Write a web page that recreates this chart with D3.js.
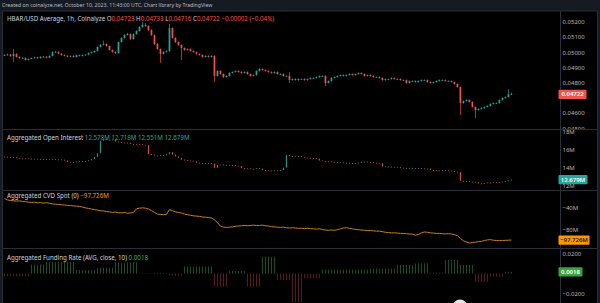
<!DOCTYPE html>
<html>
<head>
<meta charset="utf-8">
<script src="https://cdn.jsdelivr.net/npm/d3@7"></script>
<style>
  html, body { margin: 0; padding: 0; background: #161a22; }
  svg { display: block; font-family: "Noto Sans", sans-serif; }
</style>
</head>
<body>
<svg id="chart" width="600" height="303"></svg>
<script>
// HBAR/USD 1h candles, prices in 1e-5 units (4722 = 0.04722)
var openE5 = [4978,4981,4984,4974,4988,4968,4961,4962,4948,4955,
  4961,4966,4960,4968,4970,4963,4975,5000,5002,4990,
  4981,4976,4970,4975,4968,4980,4975,4981,4983,4994,
  5000,5007,5034,5047,5053,5040,5014,5001,4994,5066,
  5093,5112,5119,5086,5119,5139,5165,5178,5172,5145,
  5112,5053,5020,4988,5001,5007,5158,5093,5066,5047,
  5027,5014,5020,5007,5000,4988,4981,4968,4975,4968,
  4975,4843,4876,4856,4836,4843,4863,4869,4876,4869,
  4863,4869,4856,4843,4849,4876,4889,4882,4876,4869,
  4863,4869,4856,4856,4843,4843,4816,4823,4816,4823,
  4823,4816,4823,4830,4830,4836,4843,4843,4797,4810,
  4830,4836,4843,4849,4843,4849,4856,4849,4856,4863,
  4856,4843,4849,4843,4836,4836,4830,4816,4823,4823,
  4830,4823,4823,4816,4816,4797,4810,4810,4803,4810,
  4816,4816,4803,4797,4803,4810,4816,4816,4810,4810,
  4803,4790,4770,4665,4678,4685,4672,4639,4619,4626,
  4632,4639,4646,4659,4665,4665,4685,4698,4705,4723];
var highE5 = [4986,4990,4987,5020,4991,4972,4966,4965,4958,4964,
  4970,4969,4972,4975,4973,4979,5004,5008,5005,4993,
  4985,4979,4978,4978,4983,4984,4984,4987,4998,5004,
  5011,5038,5052,5075,5057,5043,5018,5005,5070,5098,
  5117,5126,5123,5123,5144,5170,5200,5190,5176,5150,
  5116,5058,5024,5005,5012,5185,5162,5098,5070,5051,
  5031,5024,5024,5011,5004,4992,4985,4979,4979,4979,
  4979,4882,4880,4860,4848,4867,4873,4880,4880,4873,
  4873,4873,4860,4853,4880,4895,4893,4886,4880,4873,
  4873,4873,4860,4860,4847,4869,4827,4827,4827,4827,
  4827,4827,4834,4834,4840,4847,4847,4847,4814,4834,
  4840,4847,4853,4853,4853,4860,4860,4860,4867,4867,
  4860,4853,4853,4847,4840,4840,4834,4827,4827,4834,
  4834,4827,4827,4820,4820,4814,4814,4814,4814,4820,
  4820,4820,4807,4807,4814,4820,4820,4820,4814,4814,
  4807,4794,4774,4682,4690,4690,4676,4643,4630,4636,
  4643,4650,4663,4669,4669,4689,4702,4709,4755,4733];
var lowE5 = [4974,4978,4970,4935,4964,4957,4958,4944,4945,4952,
  4957,4956,4957,4964,4959,4960,4972,4996,4986,4977,
  4972,4966,4967,4964,4965,4971,4972,4978,4980,4990,
  4996,5004,5030,5043,5036,5010,4997,4988,4990,5062,
  5089,5108,5080,5082,5115,5135,5160,5166,5140,5106,
  5048,5014,4928,4984,4997,5003,5088,5060,5042,4948,
  5010,5010,5003,4996,4984,4977,4964,4964,4964,4964,
  4803,4838,4851,4830,4832,4839,4859,4865,4865,4858,
  4859,4852,4838,4839,4845,4872,4878,4872,4865,4858,
  4859,4852,4852,4839,4839,4797,4812,4812,4812,4819,
  4812,4812,4819,4826,4826,4832,4839,4777,4793,4806,
  4826,4832,4839,4839,4839,4845,4845,4845,4852,4852,
  4839,4839,4839,4832,4832,4826,4812,4812,4819,4819,
  4819,4819,4812,4812,4793,4793,4806,4799,4799,4806,
  4812,4799,4793,4793,4799,4806,4812,4806,4806,4799,
  4786,4766,4586,4660,4674,4668,4635,4566,4615,4622,
  4628,4635,4642,4655,4661,4661,4681,4694,4701,4716];
var closeE5 = [4981,4984,4974,4988,4968,4961,4962,4948,4955,4961,
  4966,4960,4968,4970,4963,4975,5000,5002,4990,4981,
  4976,4970,4975,4968,4980,4975,4981,4983,4994,5000,
  5007,5034,5047,5053,5040,5014,5001,4994,5066,5093,
  5112,5119,5086,5119,5139,5165,5178,5172,5145,5112,
  5053,5020,4988,5001,5007,5158,5093,5066,5047,5027,
  5014,5020,5007,5000,4988,4981,4968,4975,4968,4975,
  4843,4876,4856,4836,4843,4863,4869,4876,4869,4863,
  4869,4856,4843,4849,4876,4889,4882,4876,4869,4863,
  4869,4856,4856,4843,4843,4816,4823,4816,4823,4823,
  4816,4823,4830,4830,4836,4843,4843,4797,4810,4830,
  4836,4843,4849,4843,4849,4856,4849,4856,4863,4856,
  4843,4849,4843,4836,4836,4830,4816,4823,4823,4830,
  4823,4823,4816,4816,4797,4810,4810,4803,4810,4816,
  4816,4803,4797,4803,4810,4816,4816,4810,4810,4803,
  4790,4770,4665,4678,4685,4672,4639,4619,4626,4632,
  4639,4646,4659,4665,4665,4685,4698,4705,4723,4722];

// aggregated open interest, millions
var oiOpen = [15.25,15.22,15.18,15.20,15.15,15.05,15.02,14.98,15.03,15.00,
  14.96,15.00,14.95,14.97,14.93,14.96,14.98,14.94,14.90,14.92,
  14.88,14.80,14.65,14.58,14.62,14.68,14.72,14.70,14.75,14.82,
  14.95,15.20,15.60,17.00,17.15,17.10,17.05,17.12,16.90,16.85,
  16.80,16.75,16.78,16.65,16.60,16.58,16.62,16.55,16.50,15.50,
  15.45,15.35,15.30,15.40,15.38,15.50,15.72,15.45,15.25,15.10,
  14.90,14.85,14.80,14.78,14.70,14.55,14.50,14.52,14.48,14.50,
  14.45,14.00,14.30,14.35,14.28,14.32,14.25,14.30,14.22,14.18,
  13.95,13.90,13.92,13.85,13.88,13.95,13.90,13.75,13.70,13.68,
  13.65,13.70,13.65,13.72,14.00,15.40,15.30,15.28,15.25,15.30,
  15.20,15.12,15.10,15.05,15.08,15.00,14.80,14.75,14.70,14.68,
  14.65,14.62,14.55,14.58,14.52,14.55,14.50,14.52,14.48,14.55,
  14.65,14.68,14.62,14.60,14.58,14.55,14.50,14.15,14.10,14.12,
  14.08,14.10,14.05,14.00,13.95,13.98,13.92,13.95,13.90,13.96,
  13.92,13.88,13.90,13.75,13.72,13.70,13.68,13.72,13.70,13.66,
  13.62,13.55,13.50,12.55,12.45,12.50,12.42,12.45,12.40,12.25,
  12.22,12.28,12.35,12.32,12.38,12.36,12.40,12.45,12.52,12.578];
var oiClose = [15.22,15.18,15.20,15.15,15.05,15.02,14.98,15.03,15.00,14.96,
  15.00,14.95,14.97,14.93,14.96,14.98,14.94,14.90,14.92,14.88,
  14.80,14.65,14.58,14.62,14.68,14.72,14.70,14.75,14.82,14.95,
  15.20,15.60,17.00,17.15,17.10,17.05,17.12,16.90,16.85,16.80,
  16.75,16.78,16.65,16.60,16.58,16.62,16.55,16.50,15.50,15.45,
  15.35,15.30,15.40,15.38,15.50,15.72,15.45,15.25,15.10,14.90,
  14.85,14.80,14.78,14.70,14.55,14.50,14.52,14.48,14.50,14.45,
  14.00,14.30,14.35,14.28,14.32,14.25,14.30,14.22,14.18,13.95,
  13.90,13.92,13.85,13.88,13.95,13.90,13.75,13.70,13.68,13.65,
  13.70,13.65,13.72,14.00,15.40,15.30,15.28,15.25,15.30,15.20,
  15.12,15.10,15.05,15.08,15.00,14.80,14.75,14.70,14.68,14.65,
  14.62,14.55,14.58,14.52,14.55,14.50,14.52,14.48,14.55,14.65,
  14.68,14.62,14.60,14.58,14.55,14.50,14.15,14.10,14.12,14.08,
  14.10,14.05,14.00,13.95,13.98,13.92,13.95,13.90,13.96,13.92,
  13.88,13.90,13.75,13.72,13.70,13.68,13.72,13.70,13.66,13.62,
  13.55,13.50,12.55,12.45,12.50,12.42,12.45,12.40,12.25,12.22,
  12.28,12.35,12.32,12.38,12.36,12.40,12.45,12.52,12.578,12.679];
var oiLegend = [12.578, 12.718, 12.551, 12.679];

// aggregated CVD spot, millions
var cvd = [-24.5,-27,-28,-28.5,-29,-28.8,-29.5,-30,-31,-31.5,
  -31,-32,-31.8,-32.5,-32,-33,-34,-34.5,-35,-35.5,
  -36,-36.5,-37,-37.5,-38,-38.5,-39.5,-41,-42,-43,
  -44,-45,-46,-46.5,-47.5,-48,-49,-48.5,-49.5,-50,
  -49,-50.5,-50,-49,-42.5,-41.5,-41,-41.5,-43,-46,
  -49,-52,-52.5,-53,-52.5,-44,-46,-48,-49,-50,
  -52,-53,-54,-55,-55.5,-56,-57,-57.5,-58,-59,
  -62,-67,-73,-75,-75.5,-75,-74.5,-73.5,-73,-72.5,
  -72,-72.5,-72,-71.5,-72,-72,-71.5,-72.5,-73,-74,
  -74.5,-75,-75.5,-75,-76,-76.5,-76,-76.5,-77,-77,
  -77.5,-77,-77.5,-78,-78.5,-78,-79,-80,-80.5,-80,
  -80.5,-79.5,-78,-76.5,-76,-77,-78,-79,-79.5,-80,
  -80.5,-81,-81,-81.5,-82,-82,-83,-84,-84.5,-85,
  -85,-85.5,-86,-86,-86.5,-87,-87.5,-89,-88,-85,
  -83.5,-84,-85,-85.5,-86,-86,-86.5,-87,-86.5,-87,
  -88,-90,-95,-99,-101,-103,-102,-101.5,-100.5,-100,
  -98.5,-97.5,-97,-98,-98.5,-98.8,-98.5,-98.2,-98,-97.726];

// aggregated funding rate (AVG, close, 10)
var funding = [-0.0025,-0.0025,-0.0025,-0.0025,-0.0025,-0.0025,-0.0025,-0.0025,-0.0025,0.009,
  0.009,0.009,0.009,0.009,0.0115,0.0115,0.0115,0.0115,0.0115,0.0115,
  0.0115,0.0115,0.0115,0.0115,0.0035,0.0035,0.0035,0.0035,0.0035,0.0035,
  0.0035,0.0058,0.0058,0.0058,0.0058,0.0058,0.0058,0.011,0.011,0.011,
  0.011,0.011,0.011,0.011,0.011,0.0003,0.0003,0.0003,0.0003,0.0003,
  0.0006,0.0006,0.0006,0.0006,0.0006,-0.002,-0.002,-0.002,-0.002,-0.002,
  0.007,0.007,0.007,0.007,0.007,0.007,0.007,0.007,0.007,0.007,
  -0.0128,-0.0128,-0.0128,-0.0128,-0.0128,0.0025,0.0025,0.0025,0.0025,0.0025,
  0.0025,-0.0128,-0.0128,-0.0128,-0.0128,-0.0128,0.0166,0.0166,0.0166,0.0166,
  0.0166,-0.0063,-0.0063,-0.0063,-0.0063,-0.0063,-0.028,-0.028,-0.028,-0.028,
  -0.0046,-0.0046,-0.0046,-0.0046,-0.0046,-0.0046,0.004,0.004,0.004,0.004,
  0.004,0.004,0.004,0.004,0.004,0.004,0.004,0.004,0.004,0.004,
  0.004,0.004,0.005,0.005,0.005,0.005,0.005,0.005,0.005,0.005,
  0.005,0.0085,0.0085,0.0085,0.0085,0.0085,0.0085,0.010,0.010,0.010,
  0.010,0.010,0.0008,0.0008,0.0008,0.0008,0.0008,0.0134,0.0134,0.0134,
  0.0134,0.0134,0.0085,0.0085,0.0085,0.0085,0.0085,-0.008,-0.008,-0.008,
  -0.008,-0.008,-0.003,-0.003,-0.003,-0.003,-0.003,0.0018,0.0018,0.0018];

// right scale tick labels
var priceTicks = [5200, 5100, 5000, 4900, 4800, 4600, 4500];
var oiTicks = [18, 16, 14, 12];
var cvdTicks = [-40, -80];
var fundingTicks = [0.02, -0.02];

var svg = d3.select("#chart"),
    width = +svg.attr("width"),
    height = +svg.attr("height");

var up = "#26a69a", down = "#ef5350";
var axisX = 560.5, frameRight = 597.5;
var visibleBars = 185.7;

var x = d3.scaleLinear().domain([0, visibleBars]).range([3, 560]);

var panes = [
  { top: 11, bottom: 129.5 },
  { top: 129.5, bottom: 190.5 },
  { top: 190.5, bottom: 248.5 },
  { top: 248.5, bottom: 303 }
];

var yPrice = d3.scaleLinear().domain([4500, 5200]).range([128.1, 21.7]);
var yOI = d3.scaleLinear().domain([12, 18]).range([185.7, 131.7]);
var yCvd = d3.scaleLinear().domain([-80, -40]).range([230, 207.3]);
var yFund = d3.scaleLinear().domain([-0.02, 0.02]).range([294, 253.3]);

// background
svg.append("rect").attr("width", width).attr("height", height).attr("fill", "#161a22");
svg.append("rect").attr("x", 2).attr("y", 11).attr("width", frameRight - 2).attr("height", height - 11)
  .attr("fill", "#000");

var defs = svg.append("defs");
panes.forEach(function (p, k) {
  defs.append("clipPath").attr("id", "clip" + k)
    .append("rect").attr("x", 2.5).attr("y", p.top + 0.5)
    .attr("width", axisX - 3).attr("height", p.bottom - p.top - 1);
  // the scale column is clipped per pane too
  defs.append("clipPath").attr("id", "aclip" + k)
    .append("rect").attr("x", axisX).attr("y", p.top + 0.5)
    .attr("width", frameRight - axisX).attr("height", p.bottom - p.top - 1);
});

// header
svg.append("text").attr("x", 2).attr("y", 7.3)
  .attr("font-size", 5.2).attr("fill", "#b8bcc6")
  .text("Created on coinalyze.net, October 10, 2023, 11:43:00 UTC, Chart library by TradingView");

function candles(g, o, h, l, c, y, bodyW) {
  var idx = d3.range(c.length);
  if (h) {
    g.selectAll("line.wick").data(idx).enter().append("line")
      .attr("x1", function (i) { return x(i + 0.5); })
      .attr("x2", function (i) { return x(i + 0.5); })
      .attr("y1", function (i) { return y(h[i]); })
      .attr("y2", function (i) { return y(l[i]); })
      .attr("stroke", function (i) { return c[i] >= o[i] ? up : down; })
      .attr("stroke-width", 0.7);
  }
  g.selectAll("rect.body").data(idx).enter().append("rect")
    .attr("x", function (i) { return x(i + 0.5) - bodyW / 2; })
    .attr("width", bodyW)
    .attr("y", function (i) { return y(Math.max(o[i], c[i])); })
    .attr("height", function (i) { return Math.max(0.8, Math.abs(y(o[i]) - y(c[i]))); })
    .attr("fill", function (i) { return c[i] >= o[i] ? up : down; });
}

// price pane
var gPrice = svg.append("g").attr("clip-path", "url(#clip0)");
candles(gPrice, openE5, highE5, lowE5, closeE5, yPrice, 1.7);

// open interest pane
var gOI = svg.append("g").attr("clip-path", "url(#clip1)").attr("opacity", 0.9);
candles(gOI, oiOpen, null, null, oiClose, yOI, 1.2);

// CVD pane
svg.append("g").attr("clip-path", "url(#clip2)")
  .append("path")
  .datum(cvd)
  .attr("fill", "none")
  .attr("stroke", "#c67f22")
  .attr("stroke-width", 1)
  .attr("d", d3.line()
    .x(function (d, i) { return x(i + 0.5); })
    .y(function (d) { return yCvd(d); }));

// funding pane
svg.append("g").attr("clip-path", "url(#clip3)")
  .selectAll("rect")
  .data(funding)
  .enter()
  .append("rect")
  .attr("x", function (d, i) { return x(i + 0.5) - 0.5; })
  .attr("width", 1)
  .attr("y", function (d) { return Math.min(yFund(d), yFund(0)); })
  .attr("height", function (d) { return Math.abs(yFund(d) - yFund(0)); })
  .attr("fill", function (d) { return d >= 0 ? "#1e5123" : "#5c1c1c"; });

// frame and pane separators
var lineColor = "#2a2e39";
panes.slice(1).forEach(function (p) {
  svg.append("line").attr("x1", 2).attr("x2", frameRight).attr("y1", p.top).attr("y2", p.top)
    .attr("stroke", lineColor).attr("stroke-width", 1);
});
svg.append("line").attr("x1", 2).attr("x2", frameRight).attr("y1", 11).attr("y2", 11).attr("stroke", lineColor);
svg.append("line").attr("x1", 2.5).attr("x2", 2.5).attr("y1", 11).attr("y2", height).attr("stroke", lineColor);
svg.append("line").attr("x1", axisX).attr("x2", axisX).attr("y1", 11).attr("y2", height).attr("stroke", lineColor);
svg.append("line").attr("x1", frameRight).attr("x2", frameRight).attr("y1", 11).attr("y2", height).attr("stroke", lineColor);

// right scales
function rightAxis(scale, ticks, fmt, k) {
  var g = svg.append("g").attr("clip-path", "url(#aclip" + k + ")")
    .append("g").attr("transform", "translate(" + (axisX + 2) + ",0)")
    .call(d3.axisRight(scale).tickValues(ticks).tickSize(0).tickPadding(0).tickFormat(fmt));
  g.select(".domain").remove();
  g.selectAll("text").attr("fill", "#b2b5be").attr("font-size", 6)
    .attr("font-family", "'Noto Sans', sans-serif");
}
rightAxis(yPrice, priceTicks, function (d) { return (d / 1e5).toFixed(5); }, 0);
rightAxis(yOI, oiTicks, function (d) { return d + "M"; }, 1);
rightAxis(yCvd, cvdTicks, function (d) { return "\u2212" + Math.abs(d) + "M"; }, 2);
rightAxis(yFund, fundingTicks, function (d) { return (d < 0 ? "\u2212" : "") + Math.abs(d).toFixed(4); }, 3);

// last value labels on the scale
function lastLabel(yPos, txt, bg, fg, w) {
  svg.append("rect").attr("x", axisX - 2).attr("y", yPos - 4.6).attr("width", w).attr("height", 9.2)
    .attr("rx", 1).attr("fill", bg);
  svg.append("text").attr("x", axisX - 2 + w / 2).attr("y", yPos + 2.1)
    .attr("text-anchor", "middle").attr("font-size", 6).attr("fill", fg).attr("font-weight", 600)
    .text(txt);
}
var n = closeE5.length - 1;
lastLabel(yPrice(closeE5[n]), (closeE5[n] / 1e5).toFixed(5), down, "#fff", 28);
lastLabel(yOI(oiClose[n]), oiClose[n].toFixed(3) + "M", up, "#fff", 29);
lastLabel(yCvd(cvd[n]), "\u2212" + Math.abs(cvd[n]).toFixed(3) + "M", "#ff9800", "#131722", 31);
lastLabel(yFund(funding[n]), funding[n].toFixed(4), "#3aa53a", "#fff", 24);

// pane legends
function legend(yPos, parts) {
  var t = svg.append("text").attr("x", 7).attr("y", yPos).attr("font-size", 6.2);
  parts.forEach(function (p) {
    t.append("tspan").attr("fill", p[1]).text(p[0]);
  });
}
var txt = "#d1d4dc";
var p5 = function (v) { return (v / 1e5).toFixed(5); };
legend(21.3, [
  ["HBAR/USD Average, 1h, Coinalyze  ", txt],
  ["O", txt], [p5(openE5[n]), down],
  [" H", txt], [p5(highE5[n]), down],
  [" L", txt], [p5(lowE5[n]), down],
  [" C", txt], [p5(closeE5[n]), down],
  [" \u22120.00002 (\u22120.04%)", down]
]);
legend(140.2, [
  ["Aggregated Open Interest  ", txt],
  [oiLegend.map(function (v) { return v.toFixed(3) + "M"; }).join("  "), up]
]);
legend(198.3, [
  ["Aggregated CVD Spot (0)   ", txt],
  ["\u2212" + Math.abs(cvd[n]).toFixed(3) + "M", "#ff9800"]
]);
legend(260.3, [
  ["Aggregated Funding Rate (AVG, close, 10)   ", txt],
  [funding[n].toFixed(4), "#4caf50"]
]);

// partly visible overlay badge at the bottom edge
svg.append("circle").attr("cx", 460).attr("cy", 307).attr("r", 7.5).attr("fill", "#e6e6e6");
</script>
</body>
</html>
